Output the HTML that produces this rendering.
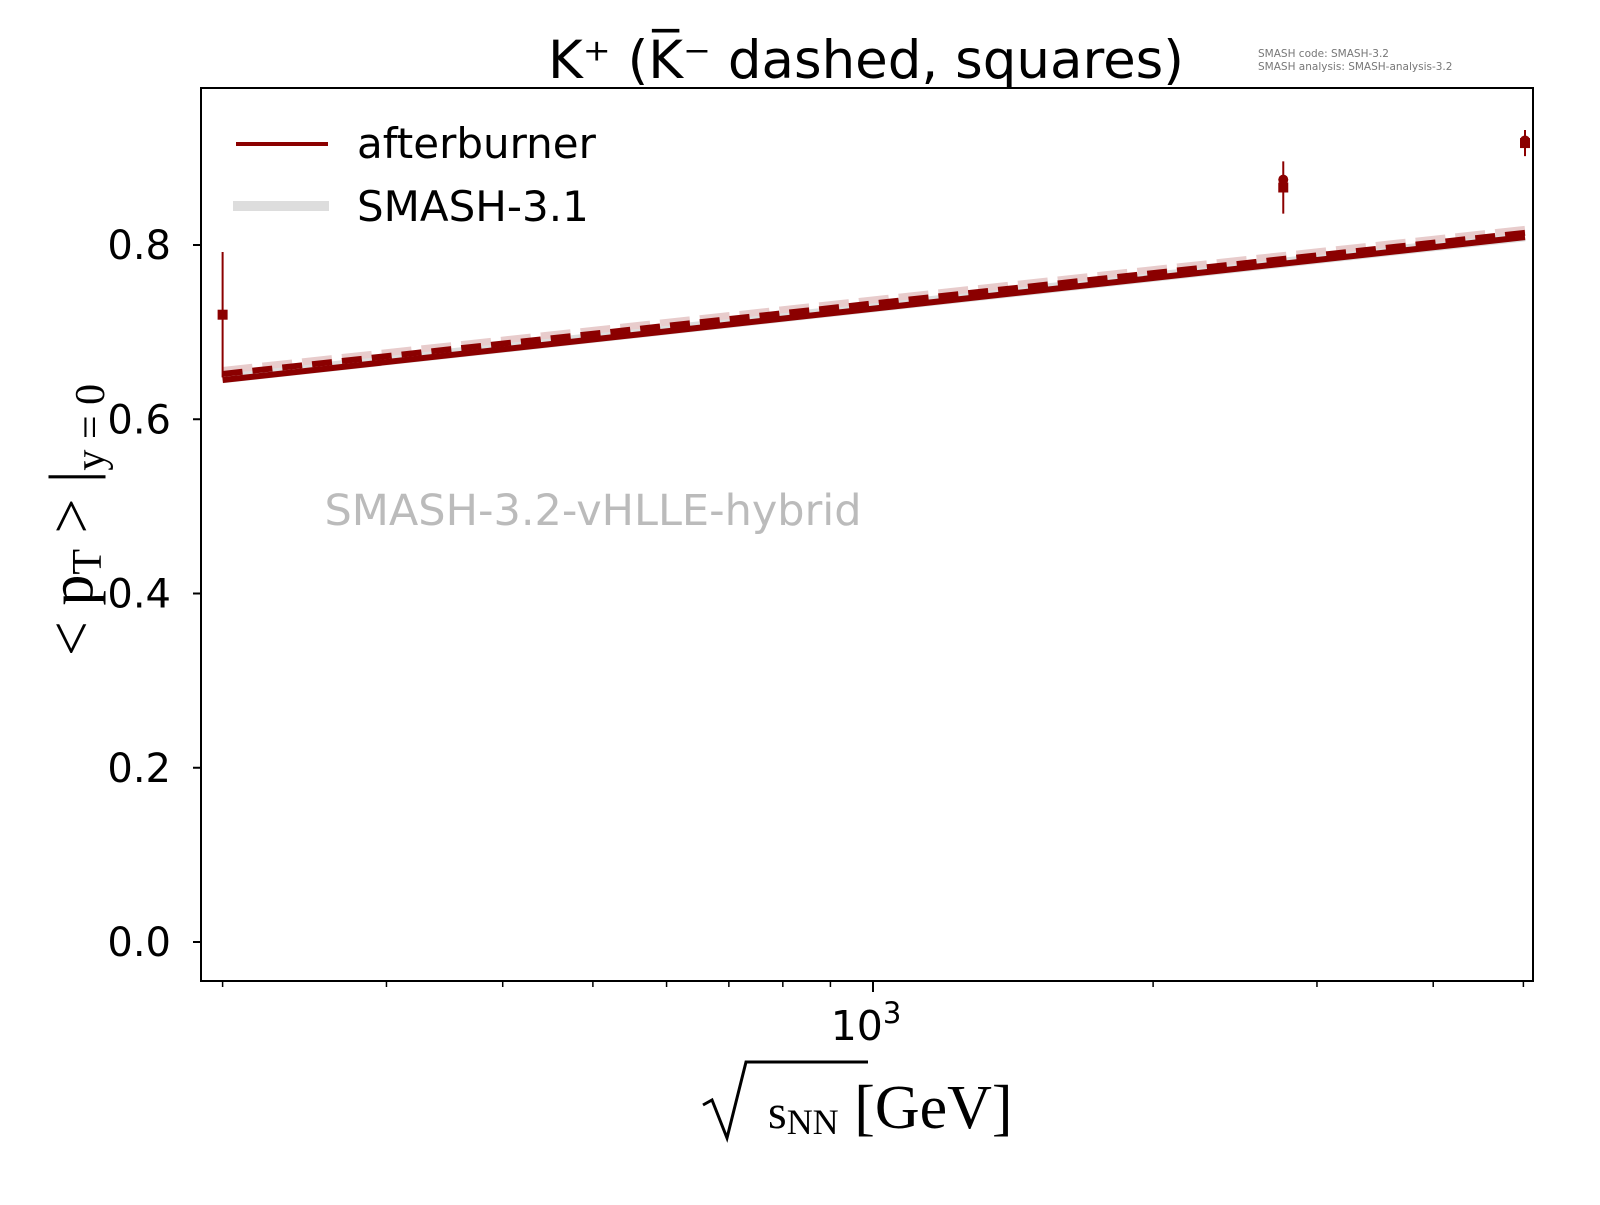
<!DOCTYPE html>
<html><head><meta charset="utf-8"><style>
body{margin:0;background:#fff}
svg text{font-family:"DejaVu Sans","Liberation Sans",sans-serif}
</style></head><body>
<svg id="chart" width="1600" height="1200" viewBox="0 0 1600 1200">
<rect width="1600" height="1200" fill="#fff"/>
<text x="866" y="78" font-size="53" text-anchor="middle">K⁺ (K̅⁻ dashed, squares)</text>
<text x="1258" y="57" font-size="10.5" fill="#777">SMASH code:      SMASH-3.2</text>
<text x="1258" y="70" font-size="10.5" fill="#777">SMASH analysis:  SMASH-analysis-3.2</text>
<g id="plot"></g>
<rect x="201" y="88" width="1332" height="893" fill="none" stroke="#000" stroke-width="2"/>
<text x="593" y="525" font-size="43" fill="#bbb" text-anchor="middle">SMASH-3.2-vHLLE-hybrid</text>
<g>
<line x1="236" y1="144" x2="328" y2="144" stroke="#8b0000" stroke-width="4"/>
<text x="357" y="158" font-size="42">afterburner</text>
<line x1="233" y1="206" x2="329" y2="206" stroke="#ddd" stroke-width="10"/>
<text x="357" y="221" font-size="42">SMASH-3.1</text>
</g>
<text x="866" y="1040" font-size="41" text-anchor="middle">10<tspan dy="-17" font-size="29">3</tspan></text>
<g>
<path d="M703,1105 L712,1100 L727,1138 L746,1062 L868,1062" fill="none" stroke="#000" stroke-width="3"/>
<text x="768" y="1128" font-size="48" style="font-family:'Liberation Serif',serif">s<tspan font-size="36" dy="6">NN</tspan><tspan dy="-6" font-size="62"> [GeV]</tspan></text>
</g>
<text transform="translate(92,520) rotate(-90)" font-size="62" text-anchor="middle" style="font-family:'Liberation Serif',serif">&lt; p<tspan font-size="42" dy="9">T</tspan><tspan dy="-9"> &gt; |</tspan><tspan font-size="42" dy="12">y = 0</tspan></text>
</svg>
<script>
const yTicks=[0.0,0.2,0.4,0.6,0.8];
const xMinor=[200,300,400,500,600,700,800,900,2000,3000,4000,5000];
const energies=[200,5020];
const afterburnerKplus=[0.645,0.809];
const afterburnerKminus=[0.652,0.814];
const smash31Kplus=[0.647,0.810];
const smash31Kminus=[0.656,0.818];
const dataE=[200,2760,5020];
const dataKplus=[null,0.875,0.92];
const dataKminus=[0.72,0.866,0.917];
const dataErr=[0.072,0.03,0.015];
const NS='http://www.w3.org/2000/svg';
const X=v=>873+(Math.log10(v)-3)*930.5;
const Y=v=>942-v*871.25;
const g=document.getElementById('plot');
function mk(t,a){const e=document.createElementNS(NS,t);for(const k in a)e.setAttribute(k,a[k]);g.appendChild(e);return e;}
yTicks.forEach(t=>{
const l=mk('line',{x1:193,x2:201,y1:Y(t),y2:Y(t),stroke:'#000','stroke-width':2});


const tx=mk('text',{x:171,y:Y(t)+14,'font-size':40,'text-anchor':'end'});
tx.textContent=t.toFixed(1);


});
xMinor.concat([1000]).forEach(v=>{
const l=mk('line',{x1:X(v),x2:X(v),y1:981,y2:v===1000?992:987,stroke:'#000','stroke-width':v===1000?2:1.5});


});
function line(arr,opts,name){
const p=mk('polyline',Object.assign({points:energies.map((e,i)=>X(e)+','+Y(arr[i])).join(' '),fill:'none'},opts));


}
line(smash31Kplus,{stroke:'#ddd','stroke-width':10},'smash31-kplus-line');
line(smash31Kminus,{stroke:'#e8cccc','stroke-width':7,'stroke-dasharray':'30 10'},'smash31-kminus-line');
line(afterburnerKplus,{stroke:'#8b0000','stroke-width':6},'afterburner-kplus-line');
line(afterburnerKminus,{stroke:'#8b0000','stroke-width':6,'stroke-dasharray':'20 10'},'afterburner-kminus-line');
dataE.forEach((e,i)=>{
const c=dataKminus[i];
const eb=mk('line',{x1:X(e),x2:X(e),y1:Y(c+dataErr[i]),y2:Y(c-dataErr[i]),stroke:'#8b0000','stroke-width':2});


if(dataKplus[i]!=null){
const ci=mk('circle',{cx:X(e),cy:Y(dataKplus[i]),r:5,fill:'#8b0000'});


}
const s=mk('rect',{x:X(e)-5,y:Y(c)-5,width:10,height:10,fill:'#8b0000'});


});
</script>
</body></html>
